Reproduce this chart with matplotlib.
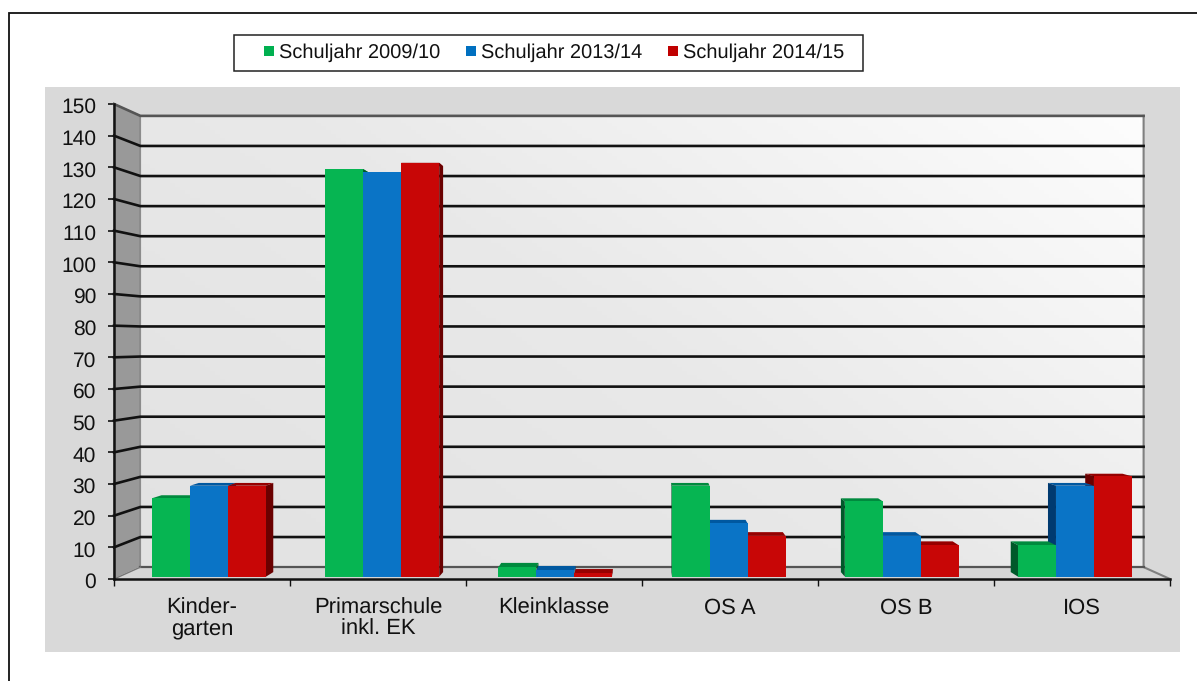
import numpy as np
import matplotlib
matplotlib.use('Agg')
import matplotlib.pyplot as plt
from matplotlib.lines import Line2D
from matplotlib.patches import Rectangle
from matplotlib.transforms import ScaledTranslation

plt.rcParams['font.family'] = ['Liberation Sans', 'DejaVu Sans']
plt.rcParams['text.hinting'] = 'no_hinting'
plt.rcParams['text.hinting_factor'] = 1

categories = ['Kinder-\ngarten', 'Primarschule\ninkl. EK', 'Kleinklasse', 'OS A', 'OS B', 'IOS']
series_names = ['Schuljahr 2009/10', 'Schuljahr 2013/14', 'Schuljahr 2014/15']
values_2009 = [25, 130, 3, 29, 24, 10]
values_2013 = [29, 129, 2, 17, 13, 29]
values_2014 = [29, 132, 1, 13, 10, 32]
y_ticks = list(range(0, 151, 10))

W, H = 1197, 681
fig = plt.figure(figsize=(W / 100, H / 100), dpi=100, facecolor='white')

# background layer in pixel coordinates
bg = fig.add_axes([0, 0, 1, 1])
bg.set_xlim(0, W)
bg.set_ylim(H, 0)
bg.axis('off')
bg.add_patch(Rectangle((45, 87), 1135, 565, fc='#d9d9d9', ec='none'))
bg.plot([8.5, 8.5, W], [H, 12.5, 12.5], color='#111111', lw=1.3, solid_joinstyle='miter')
bg.add_patch(Rectangle((233.5, 34.5), 629.5, 36.5, fc='white', ec='#222222', lw=1.1))

# main axes = front plane of the 3D box
ax = fig.add_axes([114 / W, 1 - 579 / H, (1170 - 114) / W, (579 - 104) / H])
ax.set_xlim(0, 6)
ax.set_ylim(0, 150)
ax.patch.set_alpha(0)
for s in ['top', 'right']:
    ax.spines[s].set_visible(False)
for s in ['left', 'bottom']:
    ax.spines[s].set_linewidth(1.8)
    ax.spines[s].set_color('#111111')

VX, VY = 3.0, 75.0   # vanishing point
WALL = 0.05          # depth of back wall
FRONT_X, FRONT_Y = 0.016, 0.01   # front of bars
DEPTH = 0.019        # bar depth


def px(x, f):
    return x + f * (VX - x)


def py(y, f):
    return y + f * (VY - y)


# back wall gradient, darker at lower left
xl, xr = px(0, WALL), px(6, WALL)
yb, yt = py(0, WALL), py(150, WALL)
gx, gy = np.meshgrid(np.linspace(0, 1, 200), np.linspace(0, 1, 120))
ax.imshow(gx * 0.6 + gy * 0.4, extent=(xl, xr, yb, yt), origin='lower', aspect='auto',
          cmap=matplotlib.colors.LinearSegmentedColormap.from_list('w', ['#e2e2e2', '#e9e9e9', '#fdfdfd']),
          vmin=0, vmax=1, zorder=1)
ax.set_xlim(0, 6)
ax.set_ylim(0, 150)

# left wall and floor
ax.fill([0, xl, xl, 0], [0, yb, yt, 150], color='#999999', zorder=1, clip_on=False)
ax.fill([0, xl, xr, 6], [0, yb, yb, 0], color='#d6d6d6', zorder=1, clip_on=False)
ax.plot([xl, xl], [yb, yt], color='#8a8a8a', lw=1.2, zorder=2)
ax.plot([xr, xr, 6], [yt, yb, 0], color='#808080', lw=1.5, zorder=2, clip_on=False)
ax.plot([xl, xr], [yb, yb], color='#555555', lw=1.6, zorder=2)
ax.plot([0, xl], [0, yb], color='#777777', lw=1, zorder=2)

# grid lines
for v in y_ticks[1:]:
    c = '#111111' if v < 150 else '#555555'
    ax.plot([0, xl, xr], [v, py(v, WALL), py(v, WALL)], color=c, lw=1.9, zorder=2,
            clip_on=False, solid_joinstyle='miter')

colors = ['#06b552', '#0a74c6', '#c80606']
top_colors = ['#008a3e', '#0058a0', '#960000']
side_colors = ['#00592a', '#003a70', '#6a0000']
all_values = [values_2009, values_2013, values_2014]
bw = 0.2193
z = 3
for i in range(len(categories)):
    c = i + 0.5
    order = [0, 1, 2] if c < VX else [2, 1, 0]
    for j in order:
        v = all_values[j][i]
        x0 = c + (j - 1.5) * bw
        x1 = x0 + bw
        fx0, fx1 = px(x0, FRONT_X), px(x1, FRONT_X)
        bx0, bx1 = px(x0, FRONT_X + DEPTH), px(x1, FRONT_X + DEPTH)
        fy0, fy1 = py(0, FRONT_Y), py(v, FRONT_Y)
        by0, by1 = py(0, FRONT_Y + DEPTH), py(v, FRONT_Y + DEPTH)
        ax.fill([fx0, bx0, bx1, fx1], [fy1, by1, by1, fy1], color=top_colors[j], lw=0, zorder=z)
        if c < VX:
            ax.fill([fx1, bx1, bx1, fx1], [fy0, by0, by1, fy1], color=side_colors[j], lw=0, zorder=z)
        else:
            ax.fill([fx0, bx0, bx0, fx0], [fy0, by0, by1, fy1], color=side_colors[j], lw=0, zorder=z)
        ax.bar(fx0, fy1 - fy0, width=fx1 - fx0, bottom=fy0, align='edge', color=colors[j], lw=0, zorder=z + 0.5)
        z += 1

ax.set_yticks(y_ticks)
ax.tick_params(axis='y', length=4.5, width=1.2, pad=8.5, labelsize=15, color='#111111', labelcolor='#111111')
# labels sit a little lower than the tick in the original
nudge = ScaledTranslation(0, -1.5 / 100, fig.dpi_scale_trans)
for lab in ax.get_yticklabels():
    lab.set_transform(lab.get_transform() + nudge)
ax.set_xticks(range(7))
ax.set_xticklabels([])
ax.tick_params(axis='x', which='major', length=5, width=1, color='#111111')
ax.set_xticks([i + 0.5 for i in range(6)], minor=True)
ax.set_xticklabels(categories, minor=True, fontsize=15.7, color='#111111', linespacing=1.0)
ax.tick_params(axis='x', which='minor', length=0, pad=13.5)

handles = [Line2D([], [], ls='none', marker='s', ms=7.5, color=col, mew=0)
           for col in ['#00b050', '#0070c0', '#c00000']]
fig.legend(handles, series_names, loc='center left', bbox_to_anchor=(262 / W, 1 - 53 / H), ncol=3,
           fontsize=14.15, frameon=False, labelcolor='#111111',
           handlelength=0.7, handletextpad=0.17, columnspacing=1.21, borderpad=0, borderaxespad=0)

fig.savefig('out.png', dpi=100, facecolor='white')
